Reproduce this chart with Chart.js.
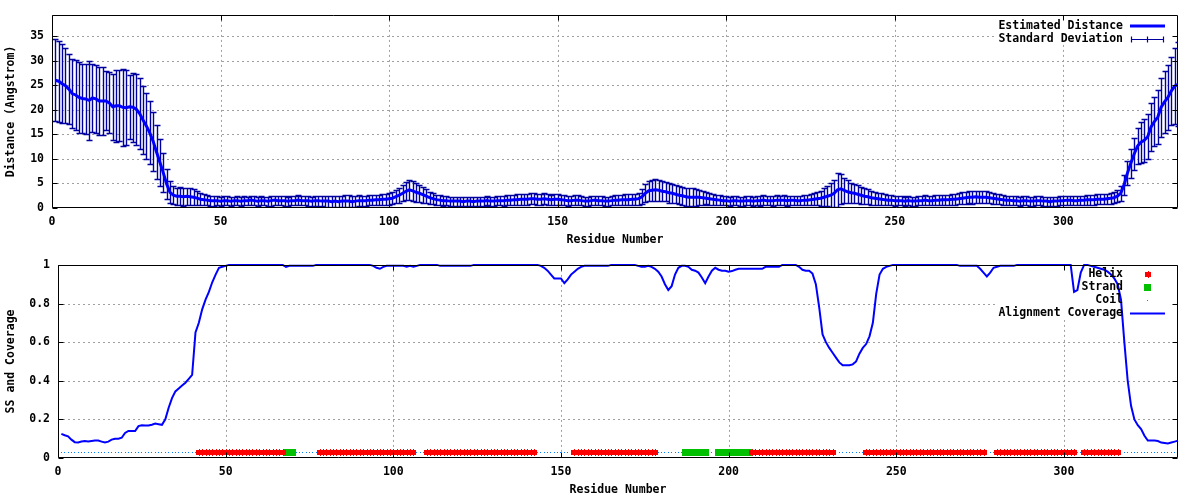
<!DOCTYPE html>
<html>
<head>
<meta charset="utf-8">
<script src="https://cdn.jsdelivr.net/npm/chart.js@4.4.1/dist/chart.umd.min.js"></script>
<style>
  body { margin: 0; background: #fff; }
  canvas { display: block; }
</style>
</head>
<body>
<canvas id="distChart" width="1200" height="250"></canvas>
<canvas id="covChart" width="1200" height="250"></canvas>
<script>
// Estimated distance per residue (Angstrom), residues 1..334
const estDistance = [
  26.0, 25.8, 25.3, 24.9, 24.2, 23.3, 23.0, 22.5, 22.3, 22.2,
  21.9, 22.4, 22.2, 21.8, 21.8, 21.8, 21.4, 20.6, 20.8, 20.8,
  20.5, 20.4, 20.6, 20.5, 20.1, 19.2, 17.9, 16.7, 15.3, 13.6,
  11.4, 9.3, 7.2, 4.9, 3.2, 2.6, 2.4, 2.4, 2.3, 2.4,
  2.3, 2.2, 2.0, 1.8, 1.7, 1.6, 1.5, 1.5, 1.5, 1.4,
  1.5, 1.5, 1.4, 1.5, 1.5, 1.4, 1.5, 1.5, 1.6, 1.5,
  1.4, 1.5, 1.5, 1.4, 1.5, 1.6, 1.5, 1.5, 1.5, 1.4,
  1.5, 1.5, 1.6, 1.5, 1.5, 1.5, 1.4, 1.5, 1.5, 1.4,
  1.4, 1.4, 1.3, 1.4, 1.3, 1.4, 1.4, 1.4, 1.3, 1.4,
  1.5, 1.5, 1.5, 1.6, 1.6, 1.7, 1.7, 1.8, 1.8, 1.9,
  2.0, 2.3, 2.6, 3.0, 3.4, 3.7, 3.5, 3.2, 3.0, 2.7,
  2.4, 2.1, 1.9, 1.7, 1.6, 1.5, 1.5, 1.4, 1.4, 1.4,
  1.4, 1.3, 1.4, 1.4, 1.3, 1.4, 1.4, 1.4, 1.5, 1.4,
  1.4, 1.5, 1.5, 1.5, 1.6, 1.6, 1.7, 1.7, 1.8, 1.8,
  1.8, 1.9, 1.9, 1.8, 1.8, 1.9, 1.8, 1.7, 1.8, 1.8,
  1.7, 1.6, 1.5, 1.5, 1.6, 1.6, 1.5, 1.4, 1.4, 1.5,
  1.6, 1.5, 1.5, 1.4, 1.4, 1.5, 1.6, 1.6, 1.7, 1.7,
  1.7, 1.8, 1.8, 1.9, 2.3, 3.0, 3.5, 3.6, 3.7, 3.6,
  3.4, 3.3, 3.1, 3.0, 2.8, 2.6, 2.5, 2.3, 2.2, 2.2,
  2.2, 2.2, 2.1, 2.0, 1.9, 1.8, 1.7, 1.6, 1.5, 1.5,
  1.4, 1.5, 1.5, 1.4, 1.4, 1.5, 1.5, 1.4, 1.5, 1.5,
  1.6, 1.5, 1.5, 1.5, 1.6, 1.6, 1.6, 1.5, 1.6, 1.6,
  1.5, 1.5, 1.6, 1.6, 1.7, 1.8, 1.9, 2.0, 2.2, 2.4,
  2.6, 3.0, 3.7, 3.9, 3.6, 3.3, 3.1, 3.0, 2.8, 2.6,
  2.4, 2.3, 2.1, 2.0, 1.9, 1.8, 1.7, 1.6, 1.6, 1.5,
  1.5, 1.5, 1.4, 1.5, 1.4, 1.4, 1.5, 1.5, 1.6, 1.5,
  1.5, 1.6, 1.6, 1.7, 1.7, 1.7, 1.8, 1.8, 1.9, 2.0,
  2.1, 2.2, 2.2, 2.3, 2.2, 2.2, 2.2, 2.1, 2.0, 1.9,
  1.8, 1.7, 1.6, 1.6, 1.5, 1.5, 1.4, 1.5, 1.5, 1.4,
  1.4, 1.5, 1.5, 1.4, 1.4, 1.3, 1.4, 1.4, 1.5, 1.5,
  1.6, 1.6, 1.5, 1.5, 1.6, 1.6, 1.7, 1.7, 1.7, 1.8,
  1.8, 1.8, 1.9, 2.0, 2.1, 2.4, 3.0, 4.7, 7.1, 9.1,
  11.0, 12.6, 13.4, 13.8, 14.5, 16.5, 17.6, 18.5, 20.5, 21.6,
  22.5, 23.8, 24.8, 25.2
];

// Standard deviation per residue
const stdDeviation = [
  8.3, 8.2, 8.0, 7.6, 7.2, 7.1, 7.2, 7.2, 7.0, 7.1,
  8.0, 7.0, 7.0, 6.9, 6.9, 6.0, 6.2, 6.7, 7.3, 7.2,
  7.8, 7.6, 6.5, 7.0, 7.2, 7.2, 7.0, 6.8, 6.4, 6.0,
  5.4, 4.8, 4.0, 3.0, 2.2, 1.8, 1.7, 1.8, 1.8, 1.7,
  1.7, 1.6, 1.4, 1.2, 1.1, 1.0, 1.0, 1.0, 0.9, 0.9,
  0.9, 0.9, 0.9, 0.8, 0.9, 0.9, 0.9, 0.8, 0.9, 0.9,
  0.9, 0.9, 0.8, 0.9, 1.0, 0.9, 0.9, 0.9, 1.0, 0.9,
  0.9, 0.9, 1.0, 0.9, 0.9, 1.0, 0.9, 1.0, 1.0, 1.0,
  1.1, 1.1, 1.2, 1.1, 1.2, 1.1, 1.2, 1.2, 1.1, 1.1,
  1.1, 1.0, 1.0, 1.0, 1.0, 1.0, 1.0, 1.1, 1.1, 1.2,
  1.2, 1.3, 1.5, 1.6, 1.8, 2.0, 2.0, 1.9, 1.7, 1.6,
  1.4, 1.2, 1.1, 1.0, 1.0, 1.0, 0.9, 0.9, 0.9, 0.9,
  0.9, 0.9, 0.9, 0.9, 0.9, 0.9, 0.9, 0.9, 0.9, 0.9,
  0.9, 0.9, 0.9, 1.0, 1.0, 1.0, 1.0, 1.1, 1.1, 1.1,
  1.1, 1.1, 1.1, 1.1, 1.1, 1.1, 1.1, 1.0, 1.1, 1.1,
  1.0, 1.0, 1.0, 0.9, 1.0, 1.0, 0.9, 0.9, 0.9, 0.9,
  0.9, 0.9, 0.9, 0.9, 0.9, 0.9, 1.0, 1.0, 1.0, 1.1,
  1.1, 1.1, 1.1, 1.2, 1.5, 1.8, 2.0, 2.2, 2.3, 2.1,
  2.0, 1.9, 2.0, 1.9, 1.8, 1.8, 1.8, 1.8, 1.8, 1.8,
  1.7, 1.5, 1.4, 1.2, 1.2, 1.1, 1.0, 1.0, 0.9, 0.9,
  0.9, 0.9, 0.9, 0.9, 0.9, 0.9, 0.9, 0.9, 0.9, 1.0,
  1.0, 0.9, 0.9, 1.0, 1.0, 0.9, 1.0, 1.0, 0.9, 0.9,
  0.9, 0.9, 1.0, 1.0, 1.1, 1.2, 1.3, 1.5, 1.8, 2.0,
  2.5, 2.8, 3.5, 3.0, 2.5, 2.3, 2.0, 1.9, 1.8, 1.7,
  1.6, 1.5, 1.4, 1.3, 1.2, 1.2, 1.1, 1.0, 1.0, 1.0,
  0.9, 0.9, 0.9, 0.9, 0.9, 0.9, 0.9, 0.9, 1.0, 0.9,
  0.9, 1.0, 1.0, 1.0, 1.0, 1.0, 1.1, 1.1, 1.1, 1.2,
  1.2, 1.2, 1.3, 1.2, 1.2, 1.2, 1.2, 1.1, 1.1, 1.0,
  1.0, 1.0, 0.9, 0.9, 0.9, 0.9, 0.9, 0.9, 0.9, 0.9,
  0.9, 0.9, 0.9, 0.9, 0.9, 0.9, 0.9, 0.9, 0.9, 0.9,
  0.9, 0.9, 0.9, 0.9, 0.9, 0.9, 1.0, 1.0, 1.0, 1.0,
  1.0, 1.0, 1.0, 1.1, 1.1, 1.2, 1.5, 2.0, 2.4, 2.9,
  3.3, 3.6, 4.2, 4.4, 4.6, 4.8, 5.0, 5.5, 6.0, 6.3,
  6.6, 7.0, 7.8, 8.5
];

// Alignment coverage per residue
const coverage = [
  0.125, 0.118, 0.112, 0.095, 0.082, 0.080, 0.085, 0.088, 0.085, 0.088,
  0.090, 0.090, 0.085, 0.080, 0.085, 0.095, 0.100, 0.100, 0.105, 0.130,
  0.140, 0.140, 0.140, 0.165, 0.170, 0.168, 0.168, 0.172, 0.178, 0.175,
  0.172, 0.200, 0.260, 0.310, 0.345, 0.360, 0.375, 0.390, 0.410, 0.430,
  0.650, 0.700, 0.770, 0.820, 0.860, 0.910, 0.950, 0.985, 0.990, 0.995,
  1, 1, 1, 1, 1, 1, 1, 1, 1, 1,
  1, 1, 1, 1, 1, 1, 1, 0.990, 0.995, 0.995,
  0.995, 0.995, 0.995, 0.995, 0.995, 0.995, 1, 1, 1, 1,
  1, 1, 1, 1, 1, 1, 1, 1, 1, 1,
  1, 1, 1, 0.995, 0.985, 0.980, 0.990, 0.995, 0.995, 0.995,
  0.995, 0.995, 0.995, 0.990, 0.995, 0.990, 0.995, 1, 1, 1,
  1, 1, 1, 0.995, 0.995, 0.995, 0.995, 0.995, 0.995, 0.995,
  0.995, 0.995, 0.995, 1, 1, 1, 1, 1, 1, 1,
  1, 1, 1, 1, 1, 1, 1, 1, 1, 1,
  1, 1, 1, 0.995, 0.985, 0.970, 0.950, 0.930, 0.930, 0.930,
  0.905, 0.925, 0.950, 0.965, 0.980, 0.990, 0.995, 0.995, 0.995, 0.995,
  0.995, 0.995, 0.995, 0.995, 1, 1, 1, 1, 1, 1,
  1, 1, 0.995, 0.990, 0.990, 0.995, 0.990, 0.980, 0.965, 0.940,
  0.900, 0.870, 0.890, 0.950, 0.985, 0.995, 0.995, 0.990, 0.975, 0.970,
  0.960, 0.935, 0.905, 0.940, 0.970, 0.985, 0.975, 0.970, 0.970, 0.965,
  0.968, 0.975, 0.980, 0.980, 0.980, 0.980, 0.980, 0.980, 0.980, 0.980,
  0.990, 0.990, 0.990, 0.990, 0.990, 1, 1, 1, 1, 1,
  0.990, 0.975, 0.970, 0.970, 0.955, 0.900, 0.780, 0.640, 0.600, 0.570,
  0.545, 0.520, 0.495, 0.480, 0.480, 0.480, 0.485, 0.500, 0.540, 0.570,
  0.590, 0.630, 0.700, 0.850, 0.950, 0.980, 0.990, 0.995, 1, 1,
  1, 1, 1, 1, 1, 1, 1, 1, 1, 1,
  1, 1, 1, 1, 1, 1, 1, 1, 0.995, 0.995,
  0.995, 0.995, 0.995, 0.995, 0.980, 0.960, 0.940, 0.960, 0.985, 0.990,
  0.995, 0.995, 0.995, 0.995, 0.995, 1, 1, 1, 1, 1,
  1, 1, 1, 1, 1, 1, 1, 1, 1, 1,
  1, 1, 0.860, 0.870, 0.960, 1, 1, 0.995, 0.990, 0.985,
  0.980, 0.975, 0.965, 0.950, 0.930, 0.900, 0.820, 0.600, 0.400, 0.270,
  0.200, 0.170, 0.150, 0.115, 0.090, 0.090, 0.090, 0.088, 0.080, 0.078,
  0.075, 0.080, 0.085, 0.090
];

// Secondary structure segments: [code, first residue, last residue]
// H = helix, E = strand, C = coil
const ssSegments = [
  ['C', 1, 41], ['H', 42, 67], ['E', 68, 70], ['C', 71, 77],
  ['H', 78, 106], ['C', 107, 109], ['H', 110, 142], ['C', 143, 153],
  ['H', 154, 178], ['C', 179, 186], ['E', 187, 193], ['C', 194, 196],
  ['E', 197, 206], ['H', 207, 231], ['C', 232, 240], ['H', 241, 276],
  ['C', 277, 279], ['H', 280, 303], ['C', 304, 305], ['H', 306, 316],
  ['C', 317, 334]
];
const ssLevel = 0.03;

const residueTicks = [0, 50, 100, 150, 200, 250, 300];
const distTicks = [0, 5, 10, 15, 20, 25, 30, 35];
const covTicks = [0, 0.2, 0.4, 0.6, 0.8, 1];

const residues = estDistance.map((_, i) => i + 1);

const BLUE = '#0000ff';
const NAVY = '#0000a0';
const RED = '#ff0000';
const GREEN = '#00c000';
const COIL = '#0080ff';
const FONT = "bold 11.5px 'DejaVu Sans Mono'";

Chart.defaults.font.family = "'DejaVu Sans Mono', 'Liberation Mono', monospace";
Chart.defaults.font.size = 11.5;
Chart.defaults.font.weight = 'bold';
Chart.defaults.color = '#000';
Chart.defaults.animation = false;

function ssCodeAt(res) {
  const seg = ssSegments.find(s => res >= s[1] && res <= s[2]);
  return seg ? seg[0] : 'C';
}
const ssPoints = code => residues.filter(r => ssCodeAt(r) === code).map(r => ({ x: r, y: ssLevel }));

// small bitmap markers, gnuplot style
function makeMarker(w, h, draw) {
  const c = document.createElement('canvas');
  c.width = w; c.height = h;
  draw(c.getContext('2d'));
  return c;
}
const helixMarker = makeMarker(6, 7, g => {
  g.fillStyle = RED;
  g.fillRect(0, 1, 6, 5);
  g.fillRect(3, 0, 1, 7);
});
const strandMarker = makeMarker(7, 7, g => {
  g.fillStyle = GREEN;
  g.fillRect(0, 0, 7, 7);
});
const coilMarker = makeMarker(1, 1, g => {
  g.fillStyle = COIL;
  g.fillRect(0, 0, 1, 1);
});

// gnuplot-like frame: dashed grid, opaque key box, error bars, border, inward ticks, key
const gnuplotFrame = {
  id: 'gnuplotFrame',
  beforeDraw(chart) {
    chart.ctx.imageSmoothingEnabled = false;
  },
  beforeDatasetsDraw(chart, args, o) {
    const { ctx, chartArea: a } = chart;
    const x = chart.scales.x, y = chart.scales.y;
    ctx.save();
    ctx.strokeStyle = '#a0a0a0';
    ctx.lineWidth = 1;
    ctx.setLineDash([2, 3]);
    ctx.beginPath();
    x.ticks.forEach(t => {
      const px = Math.round(x.getPixelForValue(t.value)) + 0.5;
      if (px < a.left + 2 || px > a.right - 2) return;
      ctx.moveTo(px, a.top); ctx.lineTo(px, a.bottom);
    });
    y.ticks.forEach(t => {
      const py = Math.round(y.getPixelForValue(t.value)) + 0.5;
      if (py < a.top + 2 || py > a.bottom - 2) return;
      ctx.moveTo(a.left, py); ctx.lineTo(a.right, py);
    });
    ctx.stroke();
    ctx.setLineDash([]);

    const k = o.keyBox;
    ctx.fillStyle = '#fff';
    ctx.fillRect(k.x, k.y, k.w, k.h);

    if (o.errors) {
      ctx.beginPath();
      ctx.rect(a.left, a.top, a.right - a.left, a.bottom - a.top);
      ctx.clip();
      ctx.strokeStyle = NAVY;
      ctx.lineWidth = 1.4;
      ctx.beginPath();
      residues.forEach((r, i) => {
        const px = Math.round(x.getPixelForValue(r)) + 0.5;
        const yt = Math.round(y.getPixelForValue(estDistance[i] + stdDeviation[i])) + 0.5;
        const yb = Math.round(y.getPixelForValue(estDistance[i] - stdDeviation[i])) + 0.5;
        ctx.moveTo(px, yt); ctx.lineTo(px, yb);
        ctx.moveTo(px - 3, yt); ctx.lineTo(px + 3, yt);
        ctx.moveTo(px - 3, yb); ctx.lineTo(px + 3, yb);
      });
      ctx.stroke();
    }
    ctx.restore();
  },
  afterDatasetsDraw(chart, args, o) {
    const { ctx, chartArea: a } = chart;
    const x = chart.scales.x, y = chart.scales.y;
    ctx.save();
    ctx.strokeStyle = '#000';
    ctx.lineWidth = 1;
    ctx.beginPath();
    const L = Math.round(a.left) + 0.5, R = Math.round(a.right) - 0.5;
    const T = Math.round(a.top) + 0.5, B = Math.round(a.bottom) - 0.5;
    ctx.rect(L, T, R - L, B - T);
    x.ticks.forEach(t => {
      const px = Math.round(x.getPixelForValue(t.value)) + 0.5;
      ctx.moveTo(px, B); ctx.lineTo(px, B - 5);
      ctx.moveTo(px, T); ctx.lineTo(px, T + 5);
    });
    y.ticks.forEach(t => {
      const py = Math.round(y.getPixelForValue(t.value)) + 0.5;
      ctx.moveTo(L, py); ctx.lineTo(L + 5, py);
      ctx.moveTo(R, py); ctx.lineTo(R - 5, py);
    });
    ctx.stroke();

    // key
    ctx.font = FONT;
    ctx.textAlign = 'right';
    ctx.textBaseline = 'middle';
    o.keyItems.forEach(item => {
      ctx.fillStyle = '#000';
      ctx.fillText(item.label, 1123, item.y);
      const cy = Math.round(item.y) + 0.5;
      if (item.kind === 'line') {
        ctx.strokeStyle = BLUE; ctx.lineWidth = item.width;
        ctx.beginPath(); ctx.moveTo(1130, item.y); ctx.lineTo(1165, item.y); ctx.stroke();
      } else if (item.kind === 'errorbar') {
        ctx.strokeStyle = NAVY; ctx.lineWidth = 1.2;
        ctx.beginPath();
        ctx.moveTo(1131, cy); ctx.lineTo(1164, cy);
        [1131.5, 1147.5, 1163.5].forEach(px => { ctx.moveTo(px, cy - 3); ctx.lineTo(px, cy + 3); });
        ctx.stroke();
      } else if (item.marker) {
        const m = item.marker;
        ctx.drawImage(m, Math.round(1147.5 - m.width / 2), Math.round(item.y - m.height / 2));
      }
    });
    ctx.restore();
  }
};

function xScale() {
  return {
    type: 'linear', min: 0, max: 334,
    afterBuildTicks: s => { s.ticks = residueTicks.map(v => ({ value: v })); },
    afterFit: s => { s.height = 42; },
    grid: { display: false, drawTicks: false },
    border: { display: false },
    ticks: { padding: 7, maxRotation: 0, autoSkip: false, callback: v => String(v) },
    title: { display: true, text: 'Residue Number', padding: { top: 0, bottom: 3 } }
  };
}

function yScale(max, tickValues, width, text) {
  return {
    type: 'linear', min: 0, max: max,
    afterBuildTicks: s => { s.ticks = tickValues.map(v => ({ value: v })); },
    afterFit: s => { s.width = width; },
    grid: { display: false, drawTicks: false },
    border: { display: false },
    ticks: { padding: 8, autoSkip: false, callback: v => String(v) },
    title: { display: true, text: text, padding: { top: 4, bottom: 0 } }
  };
}

new Chart(document.getElementById('distChart'), {
  type: 'scatter',
  data: {
    datasets: [{
      label: 'Estimated Distance',
      data: residues.map((r, i) => ({ x: r, y: estDistance[i] })),
      showLine: true,
      borderColor: BLUE,
      borderWidth: 3,
      pointRadius: 0,
      tension: 0
    }]
  },
  options: {
    responsive: false,
    events: [],
    layout: { padding: { top: 14, right: 22, left: 0, bottom: 0 } },
    scales: {
      x: xScale(),
      y: yScale(39.3, distTicks, 52, 'Distance (Angstrom)')
    },
    plugins: {
      legend: { display: false },
      tooltip: { enabled: false },
      gnuplotFrame: {
        errors: true,
        keyBox: { x: 995, y: 15, w: 178, h: 29 },
        keyItems: [
          { label: 'Estimated Distance', y: 26, kind: 'line', width: 3 },
          { label: 'Standard Deviation', y: 39, kind: 'errorbar' }
        ]
      }
    }
  },
  plugins: [gnuplotFrame]
});

new Chart(document.getElementById('covChart'), {
  type: 'scatter',
  data: {
    datasets: [
      {
        label: 'Alignment Coverage',
        data: residues.map((r, i) => ({ x: r, y: coverage[i] })),
        showLine: true,
        borderColor: BLUE,
        borderWidth: 2,
        pointRadius: 0,
        tension: 0,
        clip: 3,
        order: 0
      },
      {
        label: 'Helix',
        data: ssPoints('H'),
        pointStyle: helixMarker,
        radius: 3,
        order: 1
      },
      {
        label: 'Strand',
        data: ssPoints('E'),
        pointStyle: strandMarker,
        radius: 3,
        order: 1
      },
      {
        label: 'Coil',
        data: ssPoints('C'),
        pointStyle: coilMarker,
        radius: 1,
        order: 1
      }
    ]
  },
  options: {
    responsive: false,
    events: [],
    layout: { padding: { top: 13, right: 22, left: 0, bottom: 0 } },
    scales: {
      x: xScale(),
      y: yScale(1, covTicks, 58, 'SS and Coverage')
    },
    plugins: {
      legend: { display: false },
      tooltip: { enabled: false },
      gnuplotFrame: {
        errors: false,
        keyBox: { x: 997, y: 14, w: 176, h: 56 },
        keyItems: [
          { label: 'Helix', y: 24.5, marker: helixMarker },
          { label: 'Strand', y: 37.5, marker: strandMarker },
          { label: 'Coil', y: 50.5, marker: coilMarker },
          { label: 'Alignment Coverage', y: 63.5, kind: 'line', width: 2 }
        ]
      }
    }
  },
  plugins: [gnuplotFrame]
});
</script>
</body>
</html>
